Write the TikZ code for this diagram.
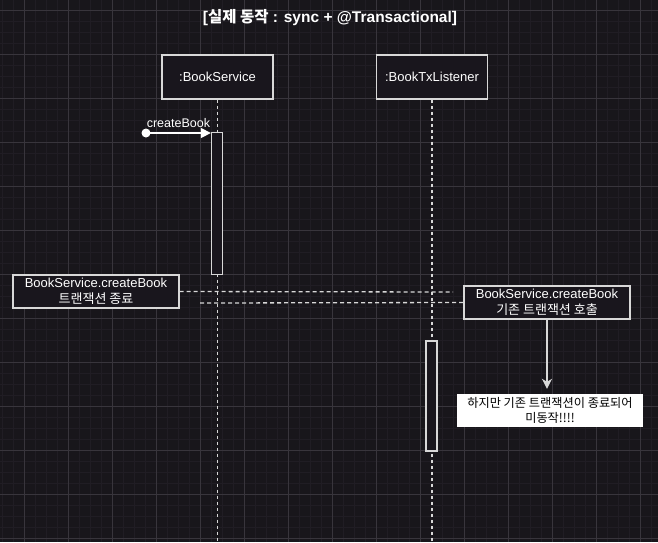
\documentclass[tikz,border=0pt]{standalone}
\usepackage{fontspec}
\setmainfont{Liberation Sans}
\newfontfamily\kr{Noto Sans CJK KR}
\usetikzlibrary{arrows.meta}
\usetikzlibrary{positioning}

\definecolor{bgcol}{HTML}{18161B}
\definecolor{minorcol}{HTML}{201D24}
\definecolor{majorcol}{HTML}{38353C}
\definecolor{linecol}{HTML}{D8D8D8}
\definecolor{boxfill}{HTML}{19161D}

\tikzset{
  lifebox/.style={draw=linecol,line width=1.3pt,fill=boxfill,text=white,
    minimum width=111pt,minimum height=44pt,inner sep=0pt,
    font=\fontsize{13}{16}\selectfont},
  actbox/.style={draw=linecol,line width=1.3pt,fill=boxfill,
    minimum width=11pt,inner sep=0pt},
  lifeline/.style={draw=linecol,line width=1.3pt,dash pattern=on 3pt off 3pt},
  notebox/.style={draw=linecol,line width=1.3pt,fill=boxfill,text=white,
    minimum width=166pt,minimum height=33pt,inner sep=0pt,align=center,
    font=\fontsize{13}{16}\selectfont},
  dashline/.style={draw=linecol,line width=1.3pt,dash pattern=on 4pt off 3pt},
  msg/.style={draw=white,line width=1.3pt,-{Triangle[length=10pt,width=10pt]}},
}

\begin{document}
\begin{tikzpicture}[x=1pt,y=-1pt]
\useasboundingbox (0,0) rectangle (658,542);
\fill[bgcol] (0,0) rectangle (658,542);

% grid
\foreach \x in {2,13,...,658} \draw[minorcol,line width=0.6pt] (\x,0) -- (\x,542);
\foreach \y in {10,21,...,542} \draw[minorcol,line width=0.6pt] (0,\y) -- (658,\y);
\foreach \x in {24,68,...,658} \draw[majorcol,line width=0.8pt] (\x,0) -- (\x,542);
\foreach \y in {10,54,...,542} \draw[majorcol,line width=0.8pt] (0,\y) -- (658,\y);

\node[text=white,font=\fontsize{15.5}{18}\selectfont\bfseries] (title) at (330,18)
  {[{\kr\bfseries 실제 동작} : sync + @Transactional]};

% participants
\node[lifebox] (svc) at (217.5,77) {:BookService};
\node[lifebox] (lsn) at (432,77) {:BookTxListener};
\coordinate (svcend) at (217.5,542);
\coordinate (lsnend) at (432,542);
\draw[lifeline] (svc.south) -- (svcend);
\draw[lifeline] (lsn.south) -- (lsnend);

% activations
\node[actbox,minimum height=142pt] (svcact) at (217,203.5) {};
\node[actbox,minimum height=110pt] (lsnact) at (431.5,396) {};

% createBook call
\coordinate (start) at (146,133);
\fill[white] (start) circle (4.5pt);
\draw[msg] (start) -- node[above,text=white,inner sep=5pt,font=\fontsize{12.5}{15}\selectfont]{createBook} (svcact.north west |- start);

% notes
\node[notebox] (endnote) at (96,291.5) {BookService.createBook\\{\kr 트랜잭션 종료}};
\node[notebox] (callnote) at (547,302.5) {BookService.createBook\\{\kr 기존 트랜잭션 호출}};
\coordinate (gapa) at (453,292);
\coordinate (gapb) at (200,303);
\draw[dashline] (endnote.east) -- (gapa);
\draw[dashline] (gapb) -- (callnote.west);

\node[fill=white,text=black,minimum width=186pt,minimum height=33pt,inner sep=0pt,
  align=center,font=\kr\fontsize{12.2}{15}\selectfont] (warn) at (550,410.5)
  {하지만 기존 트랜잭션이 종료되어\\미동작!!!!};
\draw[draw=linecol,line width=1.3pt,-{Stealth[length=10pt,width=10pt,inset=3pt]},shorten >=5pt]
  (callnote.south) -- (callnote.south |- warn.north);
\end{tikzpicture}
\end{document}
